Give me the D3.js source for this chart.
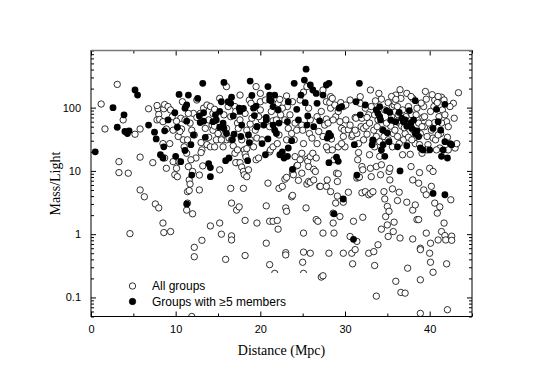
<!DOCTYPE html>
<html>
<head>
<meta charset="utf-8">
<script src="https://cdn.jsdelivr.net/npm/d3@7"></script>
<style>
  body { margin: 0; background: #fff; }
  .tick text { font-family: "Liberation Sans", Arial, sans-serif; font-size: 11px; }
</style>
</head>
<body>
<svg id="chart" width="545" height="380"></svg>
<script>
// tick values
var xMajor = [0, 10, 20, 30, 40];
var xMinor = [5, 15, 25, 35, 45];
var yMajor = [0.1, 1, 10, 100];
var yLabels = ["0.1", "1", "10", "100"];
var legendLabels = ["All groups", "Groups with \u22655 members"];

// [distance (Mpc), mass/light] for every group (open circles)
var allGroups = [
  [3.1,233],[1.2,114],[1.65,46],[3.3,14],[3.3,9.4],[4.4,9.2],[4.6,1.02],[3.8,64],[5.2,38],
  [5.8,16.5],[5.8,5.0],[6.3,3.9],[5.8,46],[6.8,96],[7.3,13.5],[7.6,3.0],[8.0,2.6],[8.5,1.5],
  [8.6,1.06],[9.4,1.1],[7.9,96],[7.8,108],[8.0,78],[7.8,64],[8.1,65],[8.5,60],[8.6,96],
  [8.7,112],[8.9,46],[8.5,27],[8.7,16],[8.9,11],[9.3,27],[9.7,44],[9.7,14],[9.9,8.7],
  [10.1,11],[10.2,8.1],[10.4,14],[10.6,68],[10.7,46],[10.9,31],[11.4,3.1],[11.3,2.4],
  [12.0,2.1],[11.4,4.7],[11.6,4.9],[11.5,11.7],[11.6,7.2],[11.4,31],[11.7,6.2],[12.2,0.62],
  [12.2,0.44],[12.1,81],[12.2,37],[12.4,16],[12.5,70],[12.5,132],[12.8,8.6],[12.8,5.0],
  [13.0,28],[13.1,21.5],[13.2,12],[13.0,19.5],[13.1,0.8],[12.9,81],[13.3,98],[13.7,110],
  [14.1,104],[14.3,53],[14.4,44],[13.7,26],[14.1,1.35],[14.1,24],[13.9,34],[14.4,81],
  [14.6,51],[14.6,94],[14.8,31],[14.6,24],[15.2,140],[15.2,10.4],[15.6,24],[15.2,1.5],
  [15.4,1.0],[15.9,0.4],[15.8,38],[16.0,47],[16.0,31],[16.0,215],[16.2,104],[16.3,33],
  [16.5,72],[16.6,31],[16.8,25],[17.0,19],[17.2,13.5],[17.3,21.5],[16.5,5.3],[16.6,3.1],
  [16.6,0.94],[16.6,0.81],[17.1,13.5],[17.2,2.4],[17.5,2.7],[17.3,57],[17.4,47],[17.6,64],
  [17.6,13.5],[17.8,11.5],[18.0,9.8],[18.1,8.7],[18.0,5.3],[18.2,1.65],[18.2,0.46],[18.4,8.1],
  [18.6,10.4],[18.8,31],[17.6,158],[18.1,21.5],[18.2,18.5],[18.3,16.6],[18.4,22.5],[18.7,132],
  [18.9,117],[18.8,55],[19.4,44],[19.5,15],[19.6,1.5],[19.6,33],[19.8,16],[20.0,92],
  [20.0,168],[20.1,64],[20.2,31],[19.6,50],[20.7,2.8],[20.7,0.72],[21.1,0.33],[20.9,6.4],
  [21.1,20],[21.1,50],[21.2,21.5],[21.5,62],[21.5,24],[21.1,1.6],[21.5,1.6],[21.7,0.24],
  [22.0,1.65],[22.1,1.2],[21.9,64],[22.0,27],[22.1,117],[22.2,37],[22.3,135],[22.4,77],
  [22.2,5.3],[22.6,5.7],[22.9,7.4],[23.1,7.9],[23.0,0.51],[23.0,0.47],[23.0,2.6],[23.1,2.3],
  [23.1,31],[23.2,104],[23.1,153],[23.3,47],[23.7,3.9],[23.8,4.1],[23.7,39],[23.8,9.4],
  [23.9,8.7],[24.0,31],[24.1,16.8],[24.3,12],[24.4,12.3],[24.5,7.1],[24.9,9.2],[24.7,15],
  [24.9,19],[24.7,132],[24.9,53],[25.0,44],[25.1,27],[25.1,1.04],[25.0,0.36],[25.1,0.52],
  [25.1,0.24],[25.4,2.6],[25.5,6.2],[25.7,6.8],[25.5,15.3],[25.6,14.2],[25.7,11.7],[25.8,39],
  [25.9,6.6],[25.9,16.8],[25.9,0.5],[26.2,19],[26.3,10.6],[26.3,7.2],[26.5,9.8],[26.6,16],
  [26.6,1.7],[26.8,1.6],[26.7,27],[26.9,42],[27.0,5.7],[27.1,5.7],[27.2,0.21],[27.4,0.22],
  [27.4,1.04],[27.6,53],[27.8,66],[27.8,124],[27.8,5.7],[27.9,7.2],[28.1,0.5],[28.0,21.5],
  [28.1,37],[28.2,120],[28.3,98],[28.3,4.7],[28.4,32],[28.5,21.5],[28.6,2.15],[28.6,1.5],
  [28.7,1.04],[28.7,15],[28.8,110],[28.9,72],[28.9,3.1],[29.1,4.0],[29.0,9.2],[29.1,6.8],
  [29.2,9.0],[29.4,1.9],[29.4,60],[29.5,120],[29.6,47],[29.8,3.2],[29.8,0.5],[29.9,44],
  [30.0,24],[30.1,64],[30.4,4.6],[30.4,45],[30.6,53],[30.6,0.92],[30.8,0.5],[30.9,0.34],
  [30.8,35],[30.9,37],[31.0,1.6],[31.2,0.57],[31.4,0.77],[31.2,70],[31.3,68],[31.4,39],
  [31.4,7.7],[31.6,7.9],[31.5,15],[31.6,19.5],[31.7,8.0],[31.8,149],[31.9,50],[32.0,11.7],
  [32.0,4.5],[32.1,10.4],[32.1,1.85],[32.2,47],[32.2,31],[32.4,98],[32.4,4.7],[32.5,51],
  [32.6,38],[32.8,77],[32.8,0.5],[32.8,4.2],[32.9,18],[33.0,11],[33.1,8.1],[33.0,4.4],
  [33.3,30],[33.3,4.7],[33.4,0.53],[33.5,0.32],[33.7,0.105],[33.4,44],[33.5,24],[33.7,11.7],
  [33.7,35],[33.9,0.68],[33.9,64],[34.1,29],[34.2,8.7],[34.3,12.5],[34.3,136],[34.3,1.2],
  [34.4,45],[34.6,35],[34.6,4.7],[34.7,3.6],[34.8,1.9],[35.0,1.4],[35.0,2.75],[35.1,0.92],
  [35.1,120],[35.2,9.8],[35.2,2.3],[35.3,7.2],[35.3,11],[35.4,51],[35.6,104],[35.6,5.2],
  [35.7,39],[35.7,1.1],[35.8,1.55],[35.8,110],[35.9,124],[36.0,158],[36.0,0.18],[36.2,35],
  [36.2,3.4],[36.3,77],[36.4,57],[36.4,4.6],[36.5,0.87],[36.6,0.12],[36.7,51],[36.8,18],
  [36.9,31],[37.1,39],[37.1,0.117],[37.2,72],[37.3,3.2],[37.4,0.29],[37.5,34],[37.7,18.3],
  [37.8,11.7],[37.9,77],[38.0,7.2],[38.0,0.84],[38.0,2.4],[38.1,44],[38.1,31],[38.3,27],
  [38.3,2.9],[38.5,1.7],[38.7,1.7],[38.7,6.4],[38.7,57],[38.8,9.4],[38.9,0.6],[38.9,0.57],
  [38.9,0.19],[38.9,0.056],[38.9,39],[39.1,19],[39.2,70],[39.3,5.0],[39.4,50],[39.6,4.2],
  [39.6,136],[39.6,1.04],[39.7,35],[39.8,26],[40.0,11],[40.0,0.5],[40.1,0.72],[40.1,0.36],
  [40.2,5.7],[40.4,33],[40.4,9.8],[40.4,0.25],[40.5,104],[40.6,58],[40.6,3.1],[40.7,31],
  [40.9,2.15],[41.0,0.81],[41.1,72],[41.2,23],[41.2,2.7],[41.3,39],[41.4,146],[41.4,1.1],
  [41.5,92],[41.7,1.5],[41.7,132],[41.8,0.95],[41.9,0.81],[42.0,60],[42.1,34],[42.0,0.34],
  [42.1,0.064],[42.2,21.5],[42.5,3.5],[42.6,0.93],[42.6,0.8],[42.8,117],[42.9,68],[43.0,23],
  [43.2,27],[43.4,172],[11.9,0.05],
  [9.1,104],[9.4,92],[9.6,72],[10.1,61],[10.3,35],[10.5,42],[10.8,124],[11.1,64],[11.5,81],
  [11.7,57],[11.9,44],[11.0,24],[11.3,19],[11.8,15],[12.0,9.8],
  [13.5,47],[13.9,64],[15.0,39],[15.4,31],[15.7,77],[17.0,104],[17.1,87],[17.8,31],[18.2,81],
  [18.4,44],[19.0,68],[19.2,24],[19.8,72],[20.0,124],[19.5,215],
  [20.6,132],[21.3,87],[22.6,98],[22.9,64],[23.5,77],[23.8,124],[24.1,57],[24.3,44],[25.1,176],
  [25.7,98],[25.9,64],[26.1,33],[26.7,72],[27.2,87],[27.4,35],[27.8,24],[28.0,57],[28.6,64],
  [29.2,24],[29.6,27],[29.8,35],
  [31.2,44],[31.6,27],[32.0,68],[32.6,70],[32.9,57],[33.1,104],[33.5,77],[33.8,50],[34.1,17],
  [34.7,92],[34.9,57],[35.1,31],[35.5,72],[35.6,24],[35.9,44],[36.2,104],[36.4,27],[36.6,140],
  [36.8,92],[37.0,48],[37.5,104],[37.7,53],[37.9,31],[38.4,77],[38.5,98],[38.8,26],[39.1,50],
  [39.3,104],[39.4,72],[39.7,21.5],[39.9,57],[40.1,87],[40.2,44],[40.6,132],[40.8,21.5],
  [41.0,37],[41.4,57],[41.8,77],[42.2,50],[42.4,104],
  [25.5,215],[27.4,190],[28.3,149],[28.5,140],[29.2,87],[29.8,104],[30.1,110],[30.6,132],[31.8,117],
  [33.0,190],[34.0,168],[35.5,150],[36.5,192],[37.3,168],[38.0,140],[39.5,180],[40.3,160],
  [41.0,150],[36.0,135],[37.8,150],[33.6,128],[39.0,118],[40.9,120]
];

// [distance (Mpc), mass/light] for groups with at least 5 members (filled)
var richGroups = [
  [0.5,20],[2.6,100],[3.1,49],[3.9,77],[4.0,42],[4.5,43],[4.3,39],[5.2,190],[5.5,158],
  [6.8,53],[7.5,41],[7.7,32],[8.2,18],[8.5,16],[8.7,43],[8.6,24],[9.1,64],[9.9,83],[10.0,17],
  [10.2,49],[10.4,162],[10.6,14],[11.1,21],[11.3,110],[11.3,61],[11.1,98],[11.5,158],[11.8,26],
  [11.9,8.6],[12.1,37],[11.3,3.0],[12.6,140],[12.8,74],[12.9,58],[13.2,242],[13.3,83],[13.3,61],
  [13.5,34],[13.9,13],[14.1,11.3],[14.1,8.1],[14.4,60],[14.7,77],[14.8,64],[15.2,49],[15.2,87],
  [15.4,124],[15.6,57],[15.7,250],[15.7,47],[15.9,14.5],[16.0,39],[16.2,124],[16.3,16],[16.5,117],
  [16.6,146],[16.7,31],[16.8,74],[16.9,38],[17.5,98],[17.6,87],[17.7,35],[17.8,53],[18.0,97],
  [18.5,14.5],[18.6,37],[18.7,28],[18.8,263],[19.0,156],[19.2,98],[19.3,75],[19.5,106],[19.6,50],
  [20.2,27],[20.4,53],[20.7,64],[20.6,18],[20.7,70],[20.9,215],[21.1,158],[21.1,132],[20.9,32],
  [21.3,128],[21.5,104],[21.5,53],[21.7,44],[21.7,158],[21.9,39],[22.1,92],[22.2,57],[22.3,18],
  [22.6,20],[22.8,16],[23.2,17],[23.2,60],[23.3,124],[23.3,23],[23.7,30],[23.8,10.6],[24.0,242],
  [24.3,94],[24.5,64],[24.8,158],[25.2,273],[25.3,120],[25.4,405],[25.5,53],[25.6,74],[25.9,228],
  [26.2,190],[26.3,50],[26.6,168],[26.7,117],[27.0,62],[27.4,158],[27.8,228],[28.1,242],[27.9,33],
  [28.1,13.5],[28.1,39],[28.3,36],[28.7,2.1],[29.0,16.5],[29.2,14.2],[29.3,98],[29.6,104],[29.8,3.6],
  [31.0,0.83],[31.1,26],[31.3,124],[31.4,8.6],[31.7,242],[31.8,77],[32.4,110],[33.2,26],[33.3,31],
  [33.7,92],[33.9,81],[34.1,72],[34.1,104],[34.2,64],[34.3,21.5],[34.5,26],[34.7,17],[34.9,90],
  [35.0,40],[35.2,29],[35.3,84],[35.4,64],[36.0,60],[36.2,24],[36.4,84],[36.5,10],[36.7,68],
  [36.9,60],[37.1,64],[37.3,25],[37.3,51],[37.6,90],[37.8,58],[37.9,47],[38.1,64],[38.3,129],
  [38.5,43],[38.7,35],[38.9,23],[39.2,21.5],[40.0,21.5],[40.4,47],[40.8,94],[41.0,60],[41.3,44],
  [41.4,17],[41.6,21.5],[41.8,29],[41.8,113],[42.1,16],[42.4,27],[42.6,26],[40.4,4.4],[41.8,4.2],
  [38.3,39],[34.5,44]
];

var svg = d3.select("#chart");
var plotLeft = 91, plotRight = 472, plotTop = 50.5, plotBottom = 316.5;

var x = d3.scaleLinear().domain([0, 45]).range([plotLeft, plotRight]);
var y = d3.scaleLog().domain([0.05, 800]).range([plotBottom, plotTop]);

// minor ticks for the log axis: 2..9 in each decade
var yMinor = [];
[0.01, 0.1, 1, 10, 100].forEach(function (d) {
  for (var k = 2; k <= 9; k++) {
    var v = d * k;
    if (v >= 0.05 && v <= 800) yMinor.push(v);
  }
});

svg.append("clipPath").attr("id", "plotClip")
  .append("rect").attr("x", plotLeft).attr("y", plotTop)
  .attr("width", plotRight - plotLeft).attr("height", plotBottom - plotTop);

var plot = svg.append("g").attr("clip-path", "url(#plotClip)");

plot.selectAll("circle.all")
  .data(allGroups)
  .enter().append("circle")
  .attr("class", "all")
  .attr("cx", function (d) { return x(d[0]); })
  .attr("cy", function (d) { return y(d[1]); })
  .attr("r", 3.2)
  .attr("fill", "#fff")
  .attr("stroke", "#000")
  .attr("stroke-width", 0.8);

plot.selectAll("circle.rich")
  .data(richGroups)
  .enter().append("circle")
  .attr("class", "rich")
  .attr("cx", function (d) { return x(d[0]); })
  .attr("cy", function (d) { return y(d[1]); })
  .attr("r", 3.4)
  .attr("fill", "#000");

// legend, drawn on a white box over the points
var legend = svg.append("g");
legend.append("rect")
  .attr("x", 118).attr("y", 273)
  .attr("width", 194).attr("height", 39)
  .attr("fill", "#fff");
legend.selectAll("circle")
  .data(legendLabels)
  .enter().append("circle")
  .attr("cx", 132.5)
  .attr("cy", function (d, i) { return 286 + i * 15.5; })
  .attr("r", 3.2)
  .attr("fill", function (d, i) { return i ? "#000" : "#fff"; })
  .attr("stroke", "#000")
  .attr("stroke-width", 0.8);
legend.selectAll("text")
  .data(legendLabels)
  .enter().append("text")
  .attr("x", 152)
  .attr("y", function (d, i) { return 290 + i * 15.5; })
  .style("font-family", "Liberation Sans, Arial, sans-serif")
  .style("font-size", "12px")
  .text(function (d) { return d; });

// axes with inward ticks
function frameAxis(g) {
  g.select(".domain").remove();
  g.selectAll(".tick line").attr("stroke", "#000");
}

svg.append("g").attr("transform", "translate(0," + plotBottom + ")")
  .call(d3.axisBottom(x).tickValues(xMajor).tickSizeInner(-5).tickPadding(9).tickFormat(d3.format("d")))
  .call(frameAxis);
svg.append("g").attr("transform", "translate(0," + plotBottom + ")")
  .call(d3.axisBottom(x).tickValues(xMinor).tickSizeInner(-3).tickFormat(""))
  .call(frameAxis);
svg.append("g").attr("transform", "translate(0," + plotTop + ")")
  .call(d3.axisTop(x).tickValues(xMajor).tickSizeInner(-5).tickFormat(""))
  .call(frameAxis);
svg.append("g").attr("transform", "translate(0," + plotTop + ")")
  .call(d3.axisTop(x).tickValues(xMinor).tickSizeInner(-3).tickFormat(""))
  .call(frameAxis);

svg.append("g").attr("transform", "translate(" + plotLeft + ",0)")
  .call(d3.axisLeft(y).tickValues(yMajor).tickSizeInner(-5).tickPadding(10)
    .tickFormat(function (d, i) { return yLabels[i]; }))
  .call(frameAxis);
svg.append("g").attr("transform", "translate(" + plotLeft + ",0)")
  .call(d3.axisLeft(y).tickValues(yMinor).tickSizeInner(-3).tickFormat(""))
  .call(frameAxis);
svg.append("g").attr("transform", "translate(" + plotRight + ",0)")
  .call(d3.axisRight(y).tickValues(yMajor).tickSizeInner(-5).tickFormat(""))
  .call(frameAxis);
svg.append("g").attr("transform", "translate(" + plotRight + ",0)")
  .call(d3.axisRight(y).tickValues(yMinor).tickSizeInner(-3).tickFormat(""))
  .call(frameAxis);

svg.append("rect")
  .attr("x", plotLeft).attr("y", plotTop)
  .attr("width", plotRight - plotLeft).attr("height", plotBottom - plotTop)
  .attr("fill", "none")
  .attr("stroke", "#000")
  .attr("stroke-width", 1);
// the top edge of the frame is drawn lighter in the original
svg.append("line")
  .attr("x1", plotLeft).attr("x2", plotRight)
  .attr("y1", plotTop).attr("y2", plotTop)
  .attr("stroke", "#777")
  .attr("stroke-width", 1.3);

svg.append("text")
  .attr("x", (plotLeft + plotRight) / 2)
  .attr("y", 355)
  .attr("text-anchor", "middle")
  .style("font-family", "Liberation Serif, Times New Roman, serif")
  .style("font-size", "14px")
  .text("Distance (Mpc)");

svg.append("text")
  .attr("transform", "translate(60," + ((plotTop + plotBottom) / 2) + ") rotate(-90)")
  .attr("text-anchor", "middle")
  .style("font-family", "Liberation Serif, Times New Roman, serif")
  .style("font-size", "14px")
  .text("Mass/Light");
</script>
</body>
</html>
